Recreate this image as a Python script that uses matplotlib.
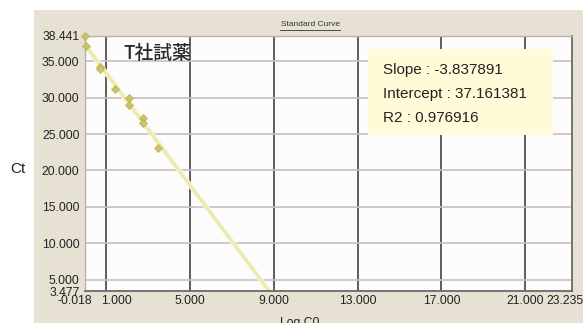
import matplotlib.pyplot as plt
from matplotlib.patches import Rectangle
from matplotlib.lines import Line2D
from matplotlib.transforms import ScaledTranslation

W, H = 583, 323

# standard curve points (log concentration vs Ct)
log_conc = [-0.018, 0.01, 0.70, 0.70, 1.42, 2.10, 2.10, 2.77, 2.77, 3.49]
ct_values = [38.441, 37.10, 34.20, 33.85, 31.20, 30.00, 28.95, 27.20, 26.50, 23.07]

slope = -3.837891
intercept = 37.161381
r2 = 0.976916

x_min, x_max = -0.018, 23.235
y_min, y_max = 3.477, 38.441
x_ticks = [x_min, 1, 5, 9, 13, 17, 21, x_max]
y_ticks = [y_min, 5, 10, 15, 20, 25, 30, 35, y_max]

plt.rcParams['font.family'] = ['Liberation Sans', 'DejaVu Sans']


def fx(px):
    return px / W


def fy(py):
    return 1 - py / H


fig = plt.figure(figsize=(W / 100, H / 100), dpi=100)
fig.patch.set_facecolor('white')

# beige window panel behind the plot
fig.patches.append(Rectangle((fx(34), 0), 1 - fx(34), fy(10), transform=fig.transFigure,
                             facecolor='#e7e1d3', edgecolor='none', zorder=-10))

ax = fig.add_axes([fx(85), fy(291), fx(572) - fx(85), fy(36) - fy(291)])
ax.set_zorder(1)
ax.set_facecolor('#fcfcfc')
ax.set_xlim(x_min, x_max)
ax.set_ylim(y_min, y_max)

# grid: dark verticals, light horizontals
for xv in x_ticks[1:-1]:
    ax.axvline(xv, color='#574d4d', lw=1.3, zorder=1)
for yv in y_ticks[1:-1]:
    ax.axhline(yv, color='#cdbfbf', lw=1.2, zorder=1)

# fitted line down to the axis floor (soft halo + core)
x_end = (y_min - intercept) / slope
fit_x = [x_min, x_end]
fit_y = [intercept + slope * x_min, y_min]
ax.plot(fit_x, fit_y, color='#f6f4d6', lw=3.6, solid_capstyle='butt', zorder=2)
ax.plot(fit_x, fit_y, color='#ebe8aa', lw=1.6, solid_capstyle='butt', zorder=2)
ax.plot(log_conc, ct_values, linestyle='none', marker='D', markersize=3.8,
        color='#cdc46a', markeredgecolor='#b8ae52', markeredgewidth=0.5, zorder=3,
        clip_on=False)

ax.set_xticks(x_ticks)
ax.set_xticklabels([f'{v:.3f}' for v in x_ticks], fontsize=8.7)
ax.set_yticks(y_ticks)
ax.set_yticklabels([f'{v:.3f}' for v in y_ticks], fontsize=8.7)
ax.tick_params(length=0, pad=3, colors='#222222')
ax.tick_params(axis='y', pad=4)

# crowded labels at both ends are nudged sideways (offsets in points)
xlabels = ax.get_xticklabels()
for idx, dx in [(0, -7), (1, 7), (-1, -5)]:
    lab = xlabels[idx]
    lab.set_transform(lab.get_transform() + ScaledTranslation(dx / 72, 0, fig.dpi_scale_trans))

for side in ['left', 'top']:
    ax.spines[side].set_color('#b8b0a8')
    ax.spines[side].set_linewidth(1.0)
for side in ['right', 'bottom']:
    ax.spines[side].set_color('#6e6868')
    ax.spines[side].set_linewidth(1.3)

# chart title with underline
fig.text(fx(310), fy(25), 'Standard Curve', fontsize=6, color='#333333',
         ha='center', va='center')
fig.add_artist(Line2D([fx(280), fx(340)], [fy(29.5), fy(29.5)], transform=fig.transFigure,
                      color='#333333', lw=0.6))

fig.text(fx(123), fy(53), 'T社試薬', fontsize=13.5, fontweight='medium',
         family=['Noto Sans CJK JP', 'DejaVu Sans'], ha='left', va='center',
         color='#2a2a2a', zorder=6)

# regression summary box
fig.patches.append(Rectangle((fx(368), fy(135)), fx(553) - fx(368), fy(49) - fy(135),
                             transform=fig.transFigure, facecolor='#fffbd9',
                             edgecolor='none', zorder=5))
summary = [f'Slope : {slope:.6f}', f'Intercept : {intercept:.6f}', f'R2 : {r2:.6f}']
for i, line in enumerate(summary):
    fig.text(fx(383), fy(70 + 24 * i), line, fontsize=11, color='#222222',
             ha='left', va='center', zorder=6)

fig.text(fx(18), fy(169), 'Ct', fontsize=11, ha='center', va='center', color='#222222')
fig.text(fx(300), fy(317), 'Log C0', fontsize=8.7, ha='center', va='top', color='#222222')

fig.savefig('out.png', dpi=100)
